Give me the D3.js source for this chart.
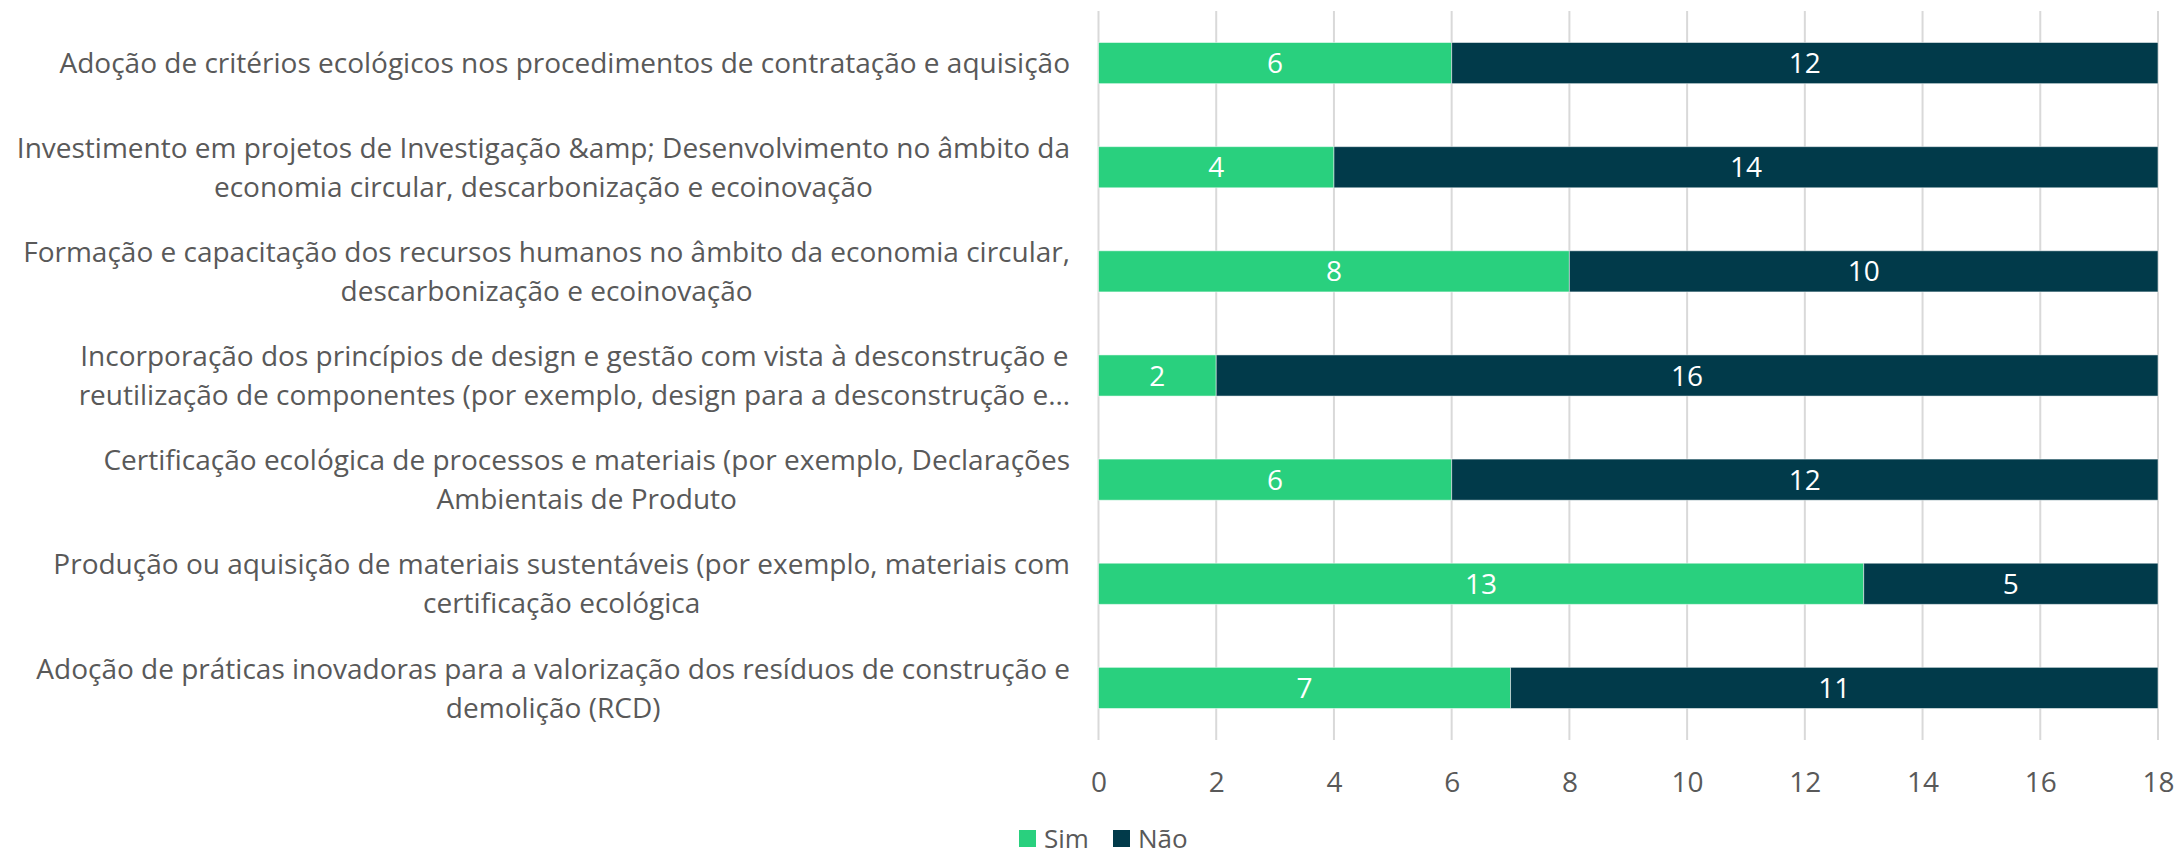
<!DOCTYPE html>
<html>
<head>
<meta charset="utf-8">
<script src="https://cdn.jsdelivr.net/npm/d3@7"></script>
<style>
  body { margin: 0; background: #fff; }
  svg text { font-family: "Open Sans", sans-serif; }
</style>
</head>
<body>
<svg id="chart" width="2179" height="856"></svg>
<script>
// categories, each one as its wrapped lines (top to bottom)
var categories = [
  ["Adoção de critérios ecológicos nos procedimentos de contratação e aquisição"],
  ["Investimento em projetos de Investigação &amp; Desenvolvimento no âmbito da", "economia circular, descarbonização e ecoinovação"],
  ["Formação e capacitação dos recursos humanos no âmbito da economia circular,", "descarbonização e ecoinovação"],
  ["Incorporação dos princípios de design e gestão com vista à desconstrução e", "reutilização de componentes (por exemplo, design para a desconstrução e…"],
  ["Certificação ecológica de processos e materiais (por exemplo, Declarações", "Ambientais de Produto"],
  ["Produção ou aquisição de materiais sustentáveis (por exemplo, materiais com", "certificação ecológica"],
  ["Adoção de práticas inovadoras para a valorização dos resíduos de construção e", "demolição (RCD)"]
];
var simValues = [6, 4, 8, 2, 6, 13, 7];
var naoValues = [12, 14, 10, 16, 12, 5, 11];
var seriesNames = ["Sim", "Não"];
var seriesColors = ["#29d07e", "#013a4a"];
var xTicks = [0, 2, 4, 6, 8, 10, 12, 14, 16, 18];

var svg = d3.select("#chart");
var margin = { left: 1098.5, right: 21, top: 11, bottom: 116 };
var width = 2179, height = 856;

var rows = categories.map(function (c, i) {
  return { idx: i, lines: c, sim: simValues[i], nao: naoValues[i] };
});

var x = d3.scaleLinear().domain([0, 18]).range([margin.left, width - margin.right]);
var y = d3.scaleBand()
  .domain(rows.map(function (d) { return d.idx; }))
  .range([margin.top, height - margin.bottom])
  .paddingInner(0.605)
  .paddingOuter(0.3025);

// gridlines
svg.append("g")
  .selectAll("line")
  .data(xTicks)
  .join("line")
  .attr("x1", function (d) { return x(d); })
  .attr("x2", function (d) { return x(d); })
  .attr("y1", margin.top)
  .attr("y2", height - margin.bottom)
  .attr("stroke", "#d9d9d9")
  .attr("stroke-width", 2);

// x axis labels
var xAxis = d3.axisBottom(x).tickValues(xTicks).tickSize(0).tickPadding(0);
var gx = svg.append("g")
  .attr("transform", "translate(0," + (height - margin.bottom) + ")")
  .call(xAxis);
gx.select(".domain").remove();
gx.selectAll("text")
  .attr("dy", null)
  .attr("y", 52)
  .attr("font-family", "Open Sans, sans-serif")
  .attr("font-size", 28)
  .attr("fill", "#595959");

// stacked bars
var stack = d3.stack().keys(["sim", "nao"]);
var stacked = stack(rows);

var layers = svg.append("g")
  .selectAll("g")
  .data(stacked)
  .join("g")
  .attr("fill", function (d, i) { return seriesColors[i]; });

layers.selectAll("rect")
  .data(function (d) { return d; })
  .join("rect")
  .attr("x", function (d) { return x(d[0]); })
  .attr("width", function (d) { return x(d[1]) - x(d[0]); })
  .attr("y", function (d) { return y(d.data.idx); })
  .attr("height", y.bandwidth())
  .attr("stroke", "#ffffff")
  .attr("stroke-opacity", 0.5)
  .attr("stroke-width", 1);

layers.selectAll("text")
  .data(function (d) { return d; })
  .join("text")
  .attr("x", function (d) { return (x(d[0]) + x(d[1])) / 2; })
  .attr("y", function (d) { return y(d.data.idx) + y.bandwidth() / 2; })
  .attr("dy", "0.36em")
  .attr("text-anchor", "middle")
  .attr("fill", "#ffffff")
  .attr("font-size", 28)
  .text(function (d) { return d[1] - d[0]; });

// category labels: block right aligned, lines centred inside block
var labelRight = 1070;
var lineH = 39;
var labels = svg.append("g")
  .selectAll("g")
  .data(rows)
  .join("g");

labels.each(function (d) {
  var g = d3.select(this);
  var cy = y(d.idx) + y.bandwidth() / 2;
  var n = d.lines.length;
  var texts = g.selectAll("text")
    .data(d.lines)
    .join("text")
    .attr("y", function (l, j) { return cy + (j - (n - 1) / 2) * lineH; })
    .attr("dy", "0.36em")
    .attr("text-anchor", "middle")
    .attr("font-size", 28)
    .attr("fill", "#595959")
    .text(function (l) { return l; });
  var maxW = 0;
  texts.each(function () { maxW = Math.max(maxW, this.getComputedTextLength()); });
  texts.attr("x", labelRight - maxW / 2);
});

// legend
var legend = svg.append("g").attr("transform", "translate(1019,830)");
var legX = [0, 94];
seriesNames.forEach(function (name, i) {
  var item = legend.append("g").attr("transform", "translate(" + legX[i] + ",0)");
  item.append("rect")
    .attr("width", 17)
    .attr("height", 17)
    .attr("fill", seriesColors[i]);
  item.append("text")
    .attr("x", 25)
    .attr("y", 8.5)
    .attr("dy", "0.36em")
    .attr("font-size", 26)
    .attr("fill", "#595959")
    .text(name);
});
</script>
</body>
</html>
